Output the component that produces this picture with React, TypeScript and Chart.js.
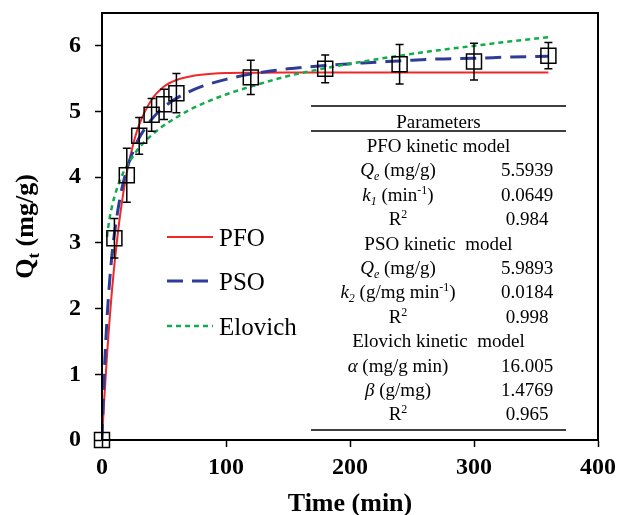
import React, { useEffect, useRef } from 'react';
import { Chart, registerables } from 'chart.js';

Chart.register(...registerables);

// Experimental data
const timePoints = [0, 10, 20, 30, 40, 50, 60, 120, 180, 240, 300, 360];
const qtValues = [0, 3.07, 4.03, 4.63, 4.95, 5.11, 5.28, 5.52, 5.65, 5.72, 5.76, 5.85];
const qtErrors = [0, 0.30, 0.41, 0.28, 0.25, 0.23, 0.30, 0.26, 0.21, 0.30, 0.28, 0.20];

// Fitted curves
const curveTime = [0, 1, 2, 4, 6, 8, 10, 15, 20, 25, 30, 40, 50, 60, 70, 80, 100, 120, 150, 180, 210, 240, 270, 300, 330, 360];
const pfoValues = [0, 0.35, 0.68, 1.28, 1.80, 2.27, 2.67, 3.48, 4.07, 4.49, 4.80, 5.18, 5.38, 5.48, 5.53, 5.56, 5.585, 5.59, 5.594, 5.594, 5.594, 5.594, 5.594, 5.594, 5.594, 5.594];
const psoValues = [0, 0.59, 1.08, 1.83, 2.38, 2.81, 3.14, 3.73, 4.12, 4.39, 4.60, 4.88, 5.07, 5.20, 5.30, 5.38, 5.49, 5.57, 5.65, 5.70, 5.74, 5.77, 5.80, 5.81, 5.83, 5.84];
const elovichTime = [4, 6, 8, 10, 15, 20, 25, 30, 40, 50, 60, 70, 80, 100, 120, 150, 180, 210, 240, 270, 300, 330, 360];
const elovichValues = [3.09, 3.36, 3.55, 3.70, 3.98, 4.17, 4.32, 4.45, 4.64, 4.79, 4.91, 5.02, 5.11, 5.26, 5.38, 5.54, 5.66, 5.76, 5.85, 5.93, 6.00, 6.07, 6.13];

const xTicks = [0, 100, 200, 300, 400];
const yTicks = [0, 1, 2, 3, 4, 5, 6];

const seriesNames = ['PFO', 'PSO', 'Elovich'];
const seriesColors = ['#f02828', '#2e3c98', '#13ac4c'];

// Parameter table
type Seg = { t: string; i?: boolean; sub?: boolean; sup?: boolean; b?: boolean };
const tableRows: Array<{ header?: string; label?: Seg[]; value?: string }> = [
  { header: 'PFO kinetic model' },
  { label: [{ t: 'Q', i: true }, { t: 'e', i: true, sub: true }, { t: ' (mg/g)' }], value: '5.5939' },
  { label: [{ t: 'k', i: true }, { t: '1', i: true, sub: true }, { t: ' (min' }, { t: '-1', sup: true }, { t: ')' }], value: '0.0649' },
  { label: [{ t: 'R' }, { t: '2', sup: true }], value: '0.984' },
  { header: 'PSO kinetic  model' },
  { label: [{ t: 'Q', i: true }, { t: 'e', i: true, sub: true }, { t: ' (mg/g)' }], value: '5.9893' },
  { label: [{ t: 'k', i: true }, { t: '2', i: true, sub: true }, { t: ' (g/mg min' }, { t: '-1', sup: true }, { t: ')' }], value: '0.0184' },
  { label: [{ t: 'R' }, { t: '2', sup: true }], value: '0.998' },
  { header: 'Elovich kinetic  model' },
  { label: [{ t: 'α', i: true }, { t: ' (mg/g min)' }], value: '16.005' },
  { label: [{ t: 'β', i: true }, { t: ' (g/mg)' }], value: '1.4769' },
  { label: [{ t: 'R' }, { t: '2', sup: true }], value: '0.965' },
];

const FONT = '"Liberation Serif", "Times New Roman", serif';

function drawRich(ctx: CanvasRenderingContext2D, segs: Seg[], cx: number, baseline: number, size: number) {
  const fontFor = (s: Seg) => `${s.i ? 'italic ' : ''}${s.b ? 'bold ' : ''}${s.sub || s.sup ? Math.round(size * 0.65) : size}px ${FONT}`;
  let w = 0;
  for (const s of segs) {
    ctx.font = fontFor(s);
    w += ctx.measureText(s.t).width;
  }
  let x = cx - w / 2;
  ctx.textAlign = 'left';
  ctx.textBaseline = 'alphabetic';
  for (const s of segs) {
    ctx.font = fontFor(s);
    const dy = s.sub ? size * 0.22 : s.sup ? -size * 0.36 : 0;
    ctx.fillText(s.t, x, baseline + dy);
    x += ctx.measureText(s.t).width;
  }
}

const decorPlugin = {
  id: 'decor',
  afterDatasetsDraw(chart: any) {
    const ctx: CanvasRenderingContext2D = chart.ctx;
    const xs = chart.scales.x;
    const ys = chart.scales.y;
    const area = chart.chartArea;
    ctx.save();
    // frame
    ctx.strokeStyle = '#000';
    ctx.lineWidth = 2;
    ctx.strokeRect(area.left, area.top, area.right - area.left, area.bottom - area.top);

    // error bars
    ctx.lineWidth = 1.5;
    for (let k = 0; k < timePoints.length; k++) {
      const e = qtErrors[k];
      if (!e) continue;
      const px = xs.getPixelForValue(timePoints[k]);
      const top = ys.getPixelForValue(qtValues[k] + e);
      const bot = ys.getPixelForValue(qtValues[k] - e);
      ctx.beginPath();
      ctx.moveTo(px, top);
      ctx.lineTo(px, bot);
      ctx.moveTo(px - 4, top);
      ctx.lineTo(px + 4, top);
      ctx.moveTo(px - 4, bot);
      ctx.lineTo(px + 4, bot);
      ctx.stroke();
    }

    // legend
    const legendY = [237, 281, 326];
    const dashes = [[], [16, 9], [5, 4]];
    const widths = [2, 3, 2.5];
    for (let k = 0; k < 3; k++) {
      ctx.strokeStyle = seriesColors[k];
      ctx.lineWidth = widths[k];
      ctx.setLineDash(dashes[k]);
      ctx.beginPath();
      ctx.moveTo(167, legendY[k]);
      ctx.lineTo(213, legendY[k]);
      ctx.stroke();
      ctx.setLineDash([]);
      ctx.fillStyle = '#000';
      ctx.font = `25px ${FONT}`;
      ctx.textAlign = 'left';
      ctx.textBaseline = 'alphabetic';
      ctx.fillText(seriesNames[k], 219, legendY[k] + 8.5);
    }

    // table
    ctx.strokeStyle = '#000';
    ctx.lineWidth = 1.5;
    ctx.beginPath();
    ctx.moveTo(311, 106); ctx.lineTo(566, 106);
    ctx.moveTo(311, 131); ctx.lineTo(566, 131);
    ctx.moveTo(311, 430); ctx.lineTo(566, 430);
    ctx.stroke();
    ctx.fillStyle = '#000';
    const size = 19;
    const off = 6;
    drawRich(ctx, [{ t: 'Parameters' }], 438.5, 121.5 + off, size);
    tableRows.forEach((row, r) => {
      const cy = 145.9 + r * 24.4;
      if (row.header) {
        drawRich(ctx, [{ t: row.header }], 438.5, cy + off, size);
      } else {
        drawRich(ctx, row.label as Seg[], 398, cy + off, size);
        drawRich(ctx, [{ t: row.value as string }], 527, cy + off, size);
      }
    });

    // axis titles
    drawRich(ctx, [{ t: 'Time (min)', b: true }], (area.left + area.right) / 2, 511, 26);
    ctx.save();
    ctx.translate(33, (area.top + area.bottom) / 2);
    ctx.rotate(-Math.PI / 2);
    drawRich(ctx, [{ t: 'Q', b: true }, { t: 't', b: true, sub: true }, { t: ' (mg/g)', b: true }], 0, 0, 26);
    ctx.restore();

    ctx.restore();
  },
};

export default function App() {
  const canvasRef = useRef<HTMLCanvasElement | null>(null);

  useEffect(() => {
    const canvas = canvasRef.current;
    if (!canvas) return;
    const toXY = (xs: number[], ys: number[]) => xs.map((x, k) => ({ x, y: ys[k] }));
    const chart = new Chart(canvas, {
      type: 'scatter',
      data: {
        datasets: [
          {
            label: seriesNames[0],
            data: toXY(curveTime, pfoValues),
            showLine: true,
            borderColor: seriesColors[0],
            borderWidth: 2,
            pointRadius: 0,
            cubicInterpolationMode: 'monotone',
            order: 3,
          } as any,
          {
            label: seriesNames[1],
            data: toXY(curveTime, psoValues),
            showLine: true,
            borderColor: seriesColors[1],
            borderWidth: 3,
            borderDash: [16, 9],
            pointRadius: 0,
            cubicInterpolationMode: 'monotone',
            order: 2,
          },
          {
            label: seriesNames[2],
            data: toXY(elovichTime, elovichValues),
            showLine: true,
            borderColor: seriesColors[2],
            borderWidth: 2.5,
            borderDash: [5, 4],
            pointRadius: 0,
            cubicInterpolationMode: 'monotone',
            order: 1,
          },
          {
            label: 'Data',
            data: toXY(timePoints, qtValues),
            showLine: false,
            pointStyle: 'rect',
            pointRadius: 10.6,
            pointBorderWidth: 1.5,
            borderColor: '#000',
            backgroundColor: 'rgba(0,0,0,0)',
            clip: false,
            order: 0,
          } as any,
        ],
      },
      options: {
        animation: false,
        responsive: false,
        devicePixelRatio: 1,
        layout: { padding: { top: 13, right: 22, left: 0, bottom: 0 } },
        plugins: { legend: { display: false }, tooltip: { enabled: false } },
        scales: {
          x: {
            type: 'linear',
            min: 0,
            max: 400,
            afterFit: (s: any) => { s.height = 75; s.paddingLeft = 0; s.paddingRight = 0; },
            afterBuildTicks: (s: any) => { s.ticks = xTicks.map((v) => ({ value: v })); },
            ticks: {
              color: '#000',
              font: { family: FONT, size: 24, weight: 'bold' },
              padding: 6,
              maxRotation: 0,
            },
            grid: {
              display: true,
              drawOnChartArea: false,
              drawTicks: true,
              tickLength: 7,
              tickColor: '#000',
              tickWidth: 1.5,
            },
            border: { display: true, color: '#000', width: 2 },
          },
          y: {
            type: 'linear',
            min: 0,
            max: 6.5,
            afterFit: (s: any) => { s.width = 102; s.paddingTop = 0; s.paddingBottom = 0; },
            afterBuildTicks: (s: any) => { s.ticks = yTicks.map((v) => ({ value: v })); },
            ticks: {
              color: '#000',
              font: { family: FONT, size: 24, weight: 'bold' },
              padding: 14,
            },
            grid: {
              display: true,
              drawOnChartArea: false,
              drawTicks: true,
              tickLength: 7,
              tickColor: '#000',
              tickWidth: 1.5,
            },
            border: { display: true, color: '#000', width: 2 },
          },
        },
      },
      plugins: [decorPlugin],
    });
    return () => chart.destroy();
  }, []);

  return (
    <div style={{ position: 'fixed', left: 0, top: 0, width: 620, height: 515, background: '#fff' }}>
      <canvas ref={canvasRef} width={620} height={515} />
    </div>
  );
}
